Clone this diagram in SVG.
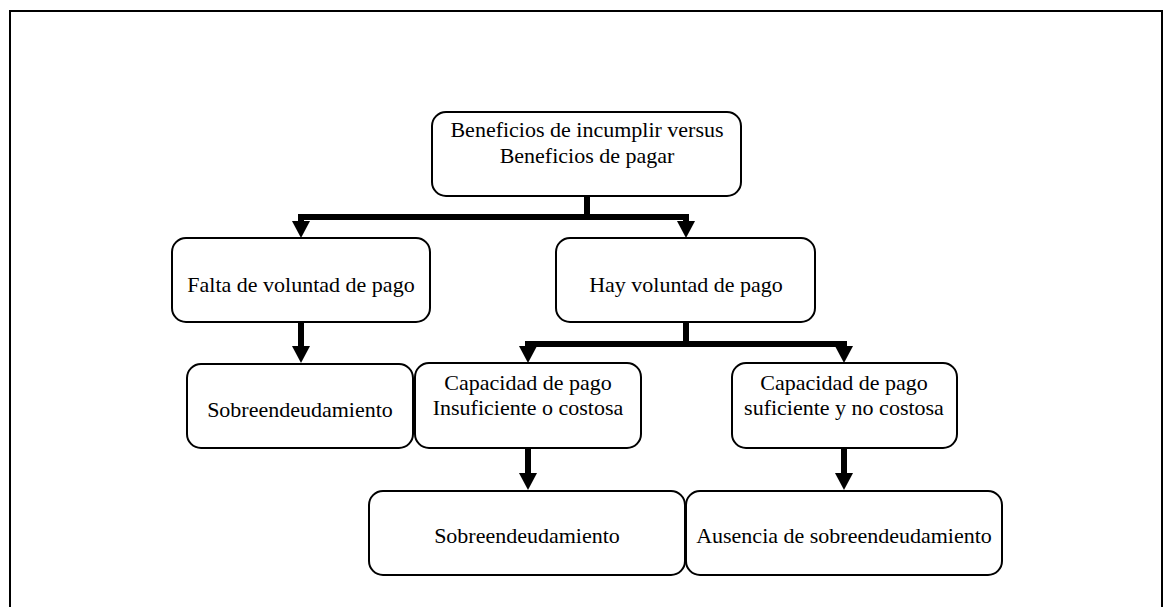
<svg xmlns="http://www.w3.org/2000/svg" width="1164" height="607" viewBox="0 0 1164 607">
<style>
.box{fill:#fff;stroke:#000;stroke-width:2}
.t{font-family:"Liberation Serif","Times New Roman",serif;font-size:22px;fill:#000;text-anchor:middle}
.c{fill:none;stroke:#000;stroke-width:6;stroke-linejoin:miter;stroke-linecap:butt}
.ah{fill:#000}
</style>
<rect x="0" y="0" width="1164" height="607" fill="#fff"/>
<path d="M10,620 V11 H1162 V620" fill="none" stroke="#000" stroke-width="2"/>
<g id="connectors">
<path class="c" d="M587,196 V217 H301 V222"/>
<path class="c" d="M587,217 H686 V222"/>
<polygon class="ah" points="292,221 310,221 301,238"/>
<polygon class="ah" points="677,221 695,221 686,238"/>
<path class="c" d="M301,322 V347"/>
<polygon class="ah" points="292,346 310,346 301,363"/>
<path class="c" d="M686,322 V344 H528 V347"/>
<path class="c" d="M686,344 H844 V347"/>
<polygon class="ah" points="519,346 537,346 528,363"/>
<polygon class="ah" points="835,346 853,346 844,363"/>
<path class="c" d="M528,448 V474"/>
<polygon class="ah" points="519,473 537,473 528,490"/>
<path class="c" d="M844,448 V474"/>
<polygon class="ah" points="835,473 853,473 844,490"/>
</g>
<g id="n-top">
<rect class="box" x="432" y="112" width="309" height="84" rx="14"/>
<text class="t" x="587" y="137">Beneficios de incumplir versus</text>
<text class="t" x="587" y="163">Beneficios de pagar</text>
</g>
<g id="n-falta">
<rect class="box" x="172" y="238" width="258" height="84" rx="14"/>
<text class="t" x="301" y="292">Falta de voluntad de pago</text>
</g>
<g id="n-hay">
<rect class="box" x="556" y="238" width="259" height="84" rx="14"/>
<text class="t" x="686" y="292">Hay voluntad de pago</text>
</g>
<g id="n-sobre1">
<rect class="box" x="187" y="364" width="226" height="84" rx="14"/>
<text class="t" x="300" y="417">Sobreendeudamiento</text>
</g>
<g id="n-cap1">
<rect class="box" x="415" y="363" width="226" height="85" rx="14"/>
<text class="t" x="528" y="390">Capacidad de pago</text>
<text class="t" x="528" y="415">Insuficiente o costosa</text>
</g>
<g id="n-cap2">
<rect class="box" x="732" y="363" width="225" height="85" rx="14"/>
<text class="t" x="844" y="390">Capacidad de pago</text>
<text class="t" x="844" y="415">suficiente y no costosa</text>
</g>
<g id="n-sobre2">
<rect class="box" x="369" y="491" width="316" height="84" rx="14"/>
<text class="t" x="527" y="543">Sobreendeudamiento</text>
</g>
<g id="n-ausencia">
<rect class="box" x="686" y="491" width="316" height="84" rx="14"/>
<text class="t" x="844" y="543">Ausencia de sobreendeudamiento</text>
</g>
</svg>
